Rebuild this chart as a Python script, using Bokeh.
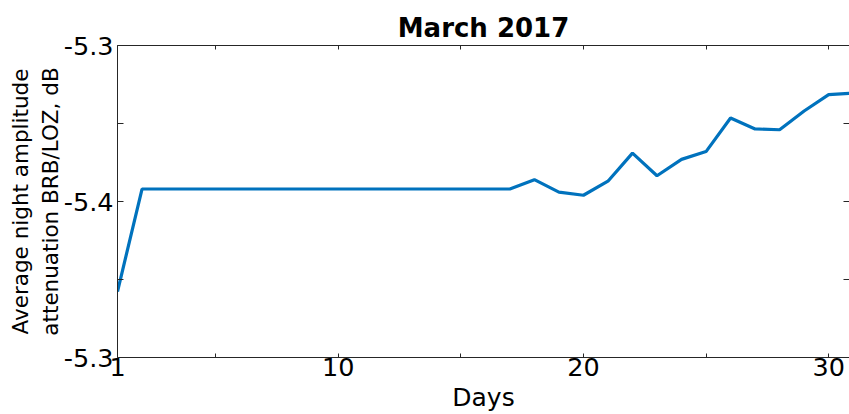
from bokeh.embed import file_html
from bokeh.models import FixedTicker, LinearAxis, Range1d
from bokeh.plotting import figure
from bokeh.resources import INLINE

# Daily average night amplitude attenuation, March 2017
days = list(range(1, 32))
attenuation_db = [
    -5.4577, -5.392, -5.392, -5.392, -5.392, -5.392, -5.392, -5.392,
    -5.392, -5.392, -5.392, -5.392, -5.392, -5.392, -5.392, -5.392,
    -5.392, -5.386, -5.394, -5.396, -5.387, -5.369, -5.3835, -5.373,
    -5.368, -5.3465, -5.3535, -5.354, -5.342, -5.3315, -5.3305,
]

x_major_ticks = [1, 10, 20, 30]
x_minor_ticks = [5, 15, 25]
y_major_ticks = [-5.5, -5.4, -5.3]
y_tick_labels = ["-5.3", "-5.4", "-5.3"]
y_minor_ticks = [-5.45, -5.35]

title_text = "March 2017"
x_label = "Days"
y_label = "Average night amplitude\nattenuation BRB/LOZ, dB"

FONT = "DejaVu Sans"
AXIS_COLOR = "#262626"
LINE_COLOR = "#0072BD"

p = figure(
    width=849,
    height=414,
    x_range=Range1d(1, 30.85),
    y_range=Range1d(-5.5, -5.3),
    output_backend="svg",
    toolbar_location=None,
    min_border_left=117,
    min_border_right=0,
    min_border_top=45,
    min_border_bottom=57,
    x_axis_location=None,
    y_axis_location=None,
)
p.grid.visible = False
p.outline_line_color = None
p.background_fill_color = "white"
p.border_fill_color = "white"

p.title.text = title_text
p.title.align = "center"
p.title.text_font = FONT
p.title.text_font_size = "26px"
p.title.text_font_style = "bold"
p.title.text_color = "black"
p.title.standoff = 6


def style_axis(ax, tick_len):
    ax.axis_line_color = AXIS_COLOR
    ax.axis_line_width = 1
    ax.major_tick_line_color = AXIS_COLOR
    ax.minor_tick_line_color = AXIS_COLOR
    ax.major_tick_in = tick_len
    ax.major_tick_out = 0
    ax.minor_tick_in = tick_len
    ax.minor_tick_out = 0
    ax.major_label_text_font = FONT
    ax.major_label_text_font_size = "25.5px"
    ax.major_label_text_color = "black"
    ax.axis_label_text_font = FONT
    ax.axis_label_text_font_style = "normal"
    ax.axis_label_text_color = "black"


# Labelled axes: bottom and left
bottom = LinearAxis(ticker=FixedTicker(ticks=x_major_ticks, minor_ticks=x_minor_ticks))
style_axis(bottom, 4)
bottom.major_label_standoff = 0
bottom.axis_label = x_label
bottom.axis_label_text_font_size = "25px"
bottom.axis_label_standoff = 4
p.add_layout(bottom, "below")

left = LinearAxis(ticker=FixedTicker(ticks=y_major_ticks, minor_ticks=y_minor_ticks))
style_axis(left, 6)
left.major_label_standoff = 4
left.major_label_overrides = {t: lab for t, lab in zip(y_major_ticks, y_tick_labels)}
left.axis_label = y_label
left.axis_label_text_font_size = "21.5px"
left.axis_label_standoff = -2
p.add_layout(left, "left")

# Box axes: top and right carry tick marks only
top = LinearAxis(ticker=FixedTicker(ticks=[], minor_ticks=x_major_ticks + x_minor_ticks))
style_axis(top, 4)
p.add_layout(top, "above")

right = LinearAxis(ticker=FixedTicker(ticks=[], minor_ticks=y_major_ticks + y_minor_ticks))
style_axis(right, 6)
right.axis_line_color = None
p.add_layout(right, "right")

p.line(days, attenuation_db, line_color=LINE_COLOR, line_width=3.2)

open("out.html", "w").write(file_html(p, INLINE))
